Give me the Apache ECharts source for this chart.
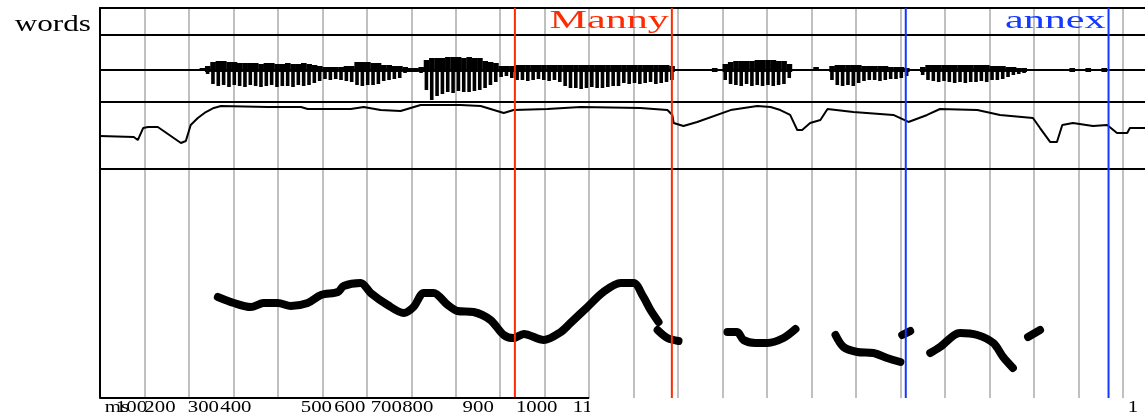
<!DOCTYPE html>
<html>
<head>
<meta charset="utf-8">
<script src="https://cdn.jsdelivr.net/npm/echarts@6/dist/echarts.min.js"></script>
<style>
  html, body { margin: 0; padding: 0; background: #fff; }
  #chart { width: 1145px; height: 415px; }
</style>
</head>
<body>
<div id="chart"></div>
<script>
// ---- time axis (ms) ----
const timeMax = 2350;
const tickValues = [100, 200, 300, 400, 500, 600, 700, 800, 900, 1000, 1100];
const tickLabels = ['100', '200', '300', '400', '500', '600', '700', '800', '900', '1000', '1100'];
const unitLabel = 'ms';
const endLabel = '1';
const tierName = 'words';

// ---- word tier ----
const words = ['Manny', 'annex'];
const wordStart = [933, 1812];
const wordEnd = [1286, 2268];

// ---- waveform: upper / lower envelope per pulse, 12 ms apart from 230 ms ----
const waveT0 = 230;
const waveStep = 12;
const waveTop = [
  2, 4, 8, 9, 9, 8, 8, 7, 7, 7,
  7, 6, 7, 7, 6, 6, 7, 6, 6, 7,
  6, 5, 4, 3, 3, 3, 3, 4, 4, 8,
  8, 8, 7, 7, 5, 5, 4, 4, 3, 2,
  2, 3, 10, 12, 12, 12, 13, 13, 13, 12,
  13, 12, 12, 9, 8, 7, 4, 4, 4, 5,
  5, 5, 5, 5, 5, 5, 5, 5, 5, 5,
  5, 5, 5, 5, 5, 5, 5, 5, 5, 5,
  5, 5, 5, 5, 5, 5, 5, 5, 4, 1,
  0, 0, 1, 1, 0, 0, 2, 1, 6, 8,
  9, 9, 9, 9, 10, 10, 10, 10, 9, 9,
  6, 0, 0, 0, 0, 3, 0, 0, 4, 5,
  5, 5, 5, 5, 4, 4, 4, 4, 4, 3,
  3, 3, 2, 1, 1, 3, 5, 5, 5, 5,
  5, 5, 5, 5, 5, 5, 5, 5, 4, 4,
  4, 3, 3, 2, 2, 0, 0, 0, 0, 0,
  0, 0, 0, 2, 0, 0, 2, 0, 0, 2
];
const waveBot = [
  -1, -4, -14, -16, -15, -17, -15, -16, -17, -15,
  -16, -17, -16, -15, -17, -16, -16, -17, -15, -16,
  -15, -13, -11, -9, -10, -9, -10, -11, -12, -15,
  -16, -15, -15, -14, -11, -10, -9, -8, -3, -2,
  -2, -3, -20, -30, -26, -24, -22, -23, -21, -22,
  -22, -21, -20, -18, -15, -12, -7, -6, -8, -10,
  -10, -11, -10, -9, -10, -11, -10, -12, -16, -18,
  -18, -19, -18, -17, -18, -18, -17, -16, -16, -13,
  -14, -13, -14, -13, -12, -14, -13, -12, -10, -1,
  0, 0, -1, -1, 0, 0, -2, -1, -10, -14,
  -15, -16, -14, -16, -15, -16, -15, -16, -15, -14,
  -8, 0, 0, 0, 0, -1, 0, 0, -10, -15,
  -16, -15, -16, -13, -11, -10, -10, -11, -10, -9,
  -9, -8, -6, -1, -1, -5, -10, -11, -12, -11,
  -12, -13, -12, -13, -12, -12, -11, -12, -10, -10,
  -9, -7, -5, -4, -3, 0, 0, 0, 0, 0,
  0, 0, 0, -2, 0, 0, -2, 0, 0, -2
];

// ---- intensity contour (dB) ----
const intTime = [0, 76, 85, 97, 108, 130, 182, 193, 204, 220, 238, 256, 272, 377, 452, 467, 564, 593, 631, 676,
  721, 811, 856, 908, 930, 1006, 1081, 1215, 1276, 1287, 1290, 1312, 1343, 1418, 1478, 1508, 1530, 1552, 1568, 1579,
  1597, 1620, 1636, 1694, 1784, 1818, 1860, 1889, 1973, 2024, 2098, 2114, 2137, 2152, 2164, 2188, 2233, 2265, 2287, 2310,
  2316, 2350];
const intDb = [61.7, 61, 59, 66.9, 67.6, 67.6, 57.1, 58.4, 68.9, 73.5, 77.4, 80.1, 81.4, 80.7, 80.7, 79.4, 79.4, 80.7, 78.7, 78.1,
  82, 82, 81.4, 76.8, 78.7, 79.4, 80.7, 80.1, 78.7, 75.5, 70.2, 68.2, 70.9, 78.7, 81.4, 80.7, 78.7, 75.5, 65.6, 65.6,
  70.2, 72.2, 79.4, 77.4, 75.5, 70.9, 75.5, 79.4, 78.7, 75.5, 73.5, 66.9, 57.7, 57.7, 68.9, 70.2, 68.2, 68.9, 63.6, 63.6,
  66.9, 66.9];

// ---- pitch track (Hz), null = unvoiced gap ----
const pitchTime = [
  265, 301, 339, 368, 400, 429, 467, 497, 535, 548, 586, 609, 647, 683, 705, 728, 750, 782, 804, 840,
  878, 908, 930, 953, 998, 1036, 1058, 1096, 1132, 1171, 1200, 1222, 1238, 1256,
  1255,
  1254, 1276, 1301,
  1350,
  1411, 1433, 1447, 1474, 1501, 1537, 1564,
  1600,
  1654, 1672, 1703, 1739, 1770, 1800,
  1802,
  1804, 1822,
  1845,
  1867, 1889, 1934, 1973, 2009, 2031, 2053,
  2070,
  2087, 2114
];
const pitchHz = [
  160.3, 153.7, 149.3, 153.7, 153.7, 150.4, 153.7, 162.4, 165.7, 172.3, 175.5, 164.6, 151.5, 142.8, 149.3, 164.6, 164.6, 151.5, 145, 143.9,
  135.2, 118.8, 115.5, 119.9, 113.3, 122, 131.9, 149.3, 165.7, 175.5, 175.5, 160.3, 146.1, 133,
  null,
  124.2, 115.5, 112.2,
  null,
  122, 122, 113.3, 110, 110, 115.5, 125.3,
  null,
  118.8, 105.7, 100.2, 99.1, 93.7, 89.3,
  null,
  118.8, 123.1,
  null,
  99.1, 105.7, 121, 118.8, 110, 94.8, 82.8,
  null,
  116.6, 124.2
];

// ---- styling ----
const SERIF = '"Liberation Serif", "Times New Roman", serif';
const wordColors = ['#ff2a00', '#1438ff'];
const gridGray = '#c0c0c0';
// horizontal nudges (px) of each tick label from its tick
const tickShift = [-13, -29, -30, -42, -6, -17, -25, -38, -22, -8, 4];

const waveData = waveTop.map((t, i) => [waveT0 + i * waveStep, t, waveBot[i]]);
const intData = intTime.map((t, i) => [t, intDb[i]]);
const pitchData = pitchTime.map((t, i) => [t, pitchHz[i] === null ? '-' : pitchHz[i]]);
const boundaryData = [];
words.forEach((w, i) => { boundaryData.push([wordStart[i], i]); boundaryData.push([wordEnd[i], i]); });

const chart = echarts.init(document.getElementById('chart'), null, { renderer: 'canvas' });

const hiddenY = (min, max, idx) => ({
  type: 'value', gridIndex: idx, min, max, show: false
});
const panelX = (idx) => ({
  type: 'value', gridIndex: idx, min: 0, max: timeMax, position: 'top',
  axisLine: { show: true, onZero: false, lineStyle: { color: '#000', width: 2 } },
  axisTick: { show: false }, axisLabel: { show: false }, splitLine: { show: false }
});

const option = {
  animation: false,
  backgroundColor: '#fff',
  grid: [
    { left: 100, right: 0, top: 8, height: 390 },   // full frame
    { left: 100, right: 0, top: 8, height: 28 },    // word tier
    { left: 100, right: 0, top: 35, height: 67 },   // waveform
    { left: 100, right: 0, top: 102, height: 67 },  // intensity
    { left: 100, right: 0, top: 169, height: 229 }  // pitch
  ],
  xAxis: [
    {
      type: 'value', gridIndex: 0, min: 0, max: timeMax, interval: 100,
      axisLine: { show: false }, axisTick: { show: false }, axisLabel: { show: false },
      splitLine: { show: true, showMinLine: false, showMaxLine: false, lineStyle: { color: gridGray, width: 2 } }
    },
    panelX(1), panelX(2), panelX(3), panelX(4)
  ],
  yAxis: [
    {
      type: 'value', gridIndex: 0, min: 0, max: 1,
      axisLine: { show: true, lineStyle: { color: '#000', width: 2 } },
      axisTick: { show: false }, axisLabel: { show: false }, splitLine: { show: false }
    },
    hiddenY(0, 1, 1),
    hiddenY(-32, 35, 2),
    hiddenY(40, 84, 3),
    hiddenY(50, 300, 4)
  ],
  series: [
    {
      // waveform: solid upper body plus a downward spike per pulse
      type: 'custom', xAxisIndex: 2, yAxisIndex: 2, z: 3,
      data: waveData,
      renderItem(params, api) {
        const t = api.value(0), top = api.value(1), bot = api.value(2);
        const children = [];
        if (params.dataIndex === 0) {
          const cs = params.coordSys;
          const y0 = api.coord([t, 0])[1];
          children.push({ type: 'line', shape: { x1: cs.x, y1: y0, x2: cs.x + cs.width, y2: y0 },
            style: { stroke: '#000', lineWidth: 2 } });
        }
        if (top !== 0 || bot !== 0) {
          const step = api.size([waveStep, 0])[0];
          const x = api.coord([t, 0])[0];
          const yTop = api.coord([t, top])[1];
          const yBody = api.coord([t, Math.max(bot, -2)])[1];
          const yBot = api.coord([t, bot])[1];
          children.push({ type: 'rect', shape: { x: x - step / 2, y: yTop, width: step + 0.3, height: Math.max(yBody - yTop, 1) },
            style: { fill: '#000' } });
          children.push({ type: 'rect', shape: { x: x - 1.8, y: yTop, width: 3.6, height: yBot - yTop },
            style: { fill: '#000' } });
        }
        return { type: 'group', children };
      }
    },
    {
      type: 'line', xAxisIndex: 3, yAxisIndex: 3, z: 3,
      data: intData, showSymbol: false, symbol: 'none',
      lineStyle: { color: '#000', width: 2 }
    },
    {
      type: 'line', xAxisIndex: 4, yAxisIndex: 4, z: 3,
      data: pitchData, showSymbol: false, symbol: 'none', connectNulls: false, smooth: 0.3,
      lineStyle: { color: '#000', width: 8, cap: 'round', join: 'round' }
    },
    {
      // word boundaries across all panels
      type: 'custom', xAxisIndex: 0, yAxisIndex: 0, z: 6,
      data: boundaryData,
      renderItem(params, api) {
        const cs = params.coordSys;
        const x = api.coord([api.value(0), 0])[0];
        return { type: 'line', shape: { x1: x, y1: cs.y, x2: x, y2: cs.y + cs.height },
          style: { stroke: wordColors[api.value(1)], lineWidth: 2 } };
      }
    }
  ]
};

chart.setOption(option);

// text labels placed from the time scale
const px = v => chart.convertToPixel({ xAxisIndex: 0 }, v);
const txt = (text, x, y, size, sx, fill, align) => ({
  type: 'text', x, y, scaleX: sx, z: 20,
  style: {
    text, x: 0, y: 0, fill,
    fontFamily: 'Liberation Serif', fontSize: size,
    font: size + 'px ' + SERIF,
    align, textAlign: align, verticalAlign: 'middle', textVerticalAlign: 'middle'
  }
});

const graphics = [];
// bottom axis line (only under the labelled range)
const axisEnd = px(tickValues[tickValues.length - 1]);
graphics.push({ type: 'line', z: 8, shape: { x1: 100, y1: 398, x2: axisEnd, y2: 398 },
  style: { stroke: '#000', lineWidth: 2 } });
// tier name
graphics.push(txt(tierName, 91, 25, 24, 1.3, '#000', 'right'));
// words, right-aligned at their end boundary
words.forEach((w, i) => {
  graphics.push(txt(w, px(wordEnd[i]) - 3, 21, 26, 1.62, wordColors[i], 'right'));
});
// time labels
graphics.push(txt(unitLabel, px(0) + 17, 408, 16, 1.3, '#000', 'center'));
tickValues.forEach((v, i) => {
  graphics.push(txt(tickLabels[i], px(v) + tickShift[i], 408, 16, 1.3, '#000', 'center'));
});
// labels stop where the bottom axis stops
graphics.push({ type: 'rect', z: 25, shape: { x: axisEnd + 1, y: 399, width: 80, height: 16 },
  style: { fill: '#fff' } });
graphics.push(txt(endLabel, 1133, 408, 16, 1.3, '#000', 'center'));

chart.setOption({ graphic: graphics });
</script>
</body>
</html>
